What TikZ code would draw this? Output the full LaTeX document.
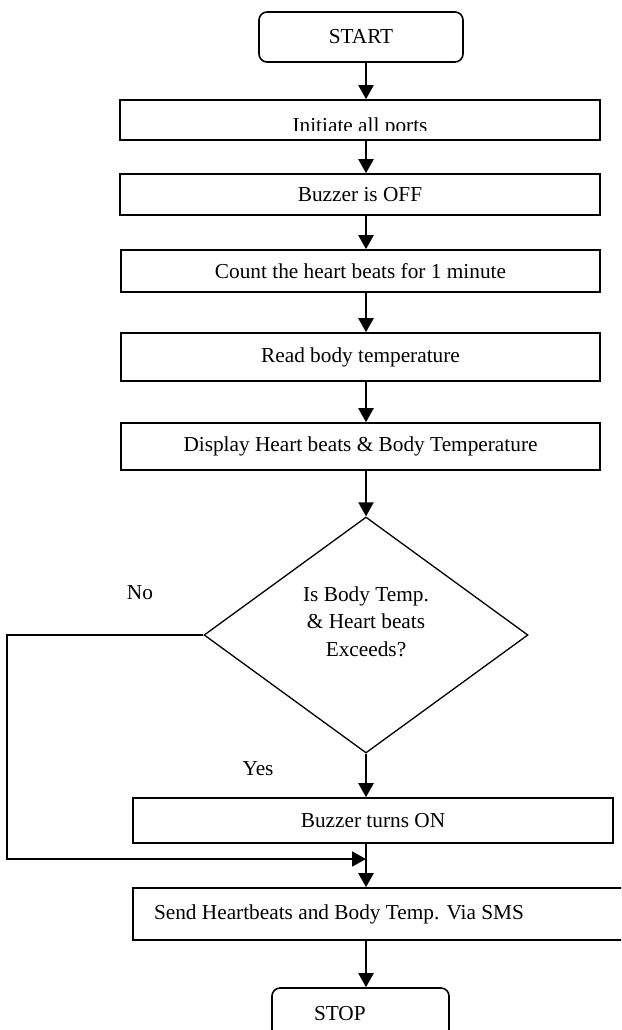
\documentclass[tikz,border=0pt]{standalone}
\usepackage{fontspec}
\setmainfont{Liberation Serif}
\usetikzlibrary{shapes.geometric,arrows.meta}
\begin{document}
\begin{tikzpicture}[x=1pt,y=-1pt,
  every node/.style={font=\fontsize{21.3}{27.5}\selectfont},
  box/.style={draw, line width=1.6pt, rectangle, inner sep=0pt},
  term/.style={box, rounded corners=8pt},
  arr/.style={line width=2.2pt, -{Triangle[width=15pt,length=14pt]}},
  loopline/.style={line width=1.8pt, -{Triangle[width=15pt,length=14pt]}}]
\clip (0,0) rectangle (621,1030);
\fill[white] (0,0) rectangle (621,1030);

\node[term, minimum width=204pt, minimum height=50pt] (start) at (361,37) {START};
\node[box, minimum width=480pt, minimum height=40pt] (init) at (360,120) {};
\begin{scope}
  \clip (121,101) rectangle (599,131);
  \node[anchor=base, inner sep=0pt] (inittext) at (360,132) {Initiate all ports};
\end{scope}
\node[box, minimum width=480pt, minimum height=41pt] (off) at (360,194.5) {Buzzer is OFF};
\node[box, minimum width=479pt, minimum height=42pt] (count) at (360.5,271) {Count the heart beats for 1 minute};
\node[box, minimum width=479pt, minimum height=48pt] (read) at (360.5,357) {Read body temperature};
\node[box, minimum width=479pt, minimum height=47pt] (disp) at (360.5,446.5) {Display Heart beats \& Body Temperature};
\node[diamond, draw, line width=1.3pt, inner sep=0pt, minimum width=324pt, minimum height=236pt] (dia) at (366,635)
  {\raisebox{12pt}[\height][\depth]{\begin{tabular}{@{}c@{}}Is Body Temp.\\ \& Heart beats\\ Exceeds?\end{tabular}}};
\node[box, minimum width=480pt, minimum height=45pt] (on) at (373,820.5) {Buzzer turns ON};
\node[box, minimum width=490pt, minimum height=52pt, text width=448pt, align=flush left, inner xsep=21pt] (send) at (378,914) {Send Heartbeats and Body Temp. Via SMS};
\node[term, minimum width=177pt, minimum height=51pt, text width=93pt, align=flush left, inner xsep=42pt] (stop) at (360.5,1013.5) {STOP};

\node[anchor=base] (no) at (140,599) {No};
\node[anchor=base] (yes) at (258,775) {Yes};

\coordinate (nl) at (7,635);
\coordinate (nb) at (7,859);
\coordinate (merge) at (366,859);

\draw[arr] (start.south -| dia.north) -- (init.north -| dia.north);
\draw[arr] (init.south -| dia.north) -- (off.north -| dia.north);
\draw[arr] (off.south -| dia.north) -- (count.north -| dia.north);
\draw[arr] (count.south -| dia.north) -- (read.north -| dia.north);
\draw[arr] (read.south -| dia.north) -- (disp.north -| dia.north);
\draw[arr] (disp.south -| dia.north) -- (dia.north);
\draw[arr] (dia.south) -- (on.north -| dia.south);
\draw[arr] (on.south -| dia.south) -- (send.north -| dia.south);
\draw[arr] (send.south -| dia.south) -- (stop.north -| dia.south);
\draw[loopline] (dia.west) -- (nl) -- (nb) -- (merge);
\end{tikzpicture}
\end{document}
